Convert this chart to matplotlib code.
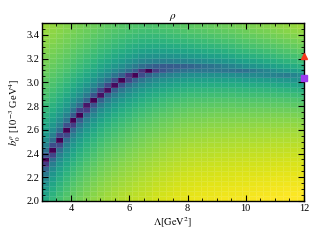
import numpy as np
import matplotlib
matplotlib.use("Agg")
import matplotlib.pyplot as plt
from matplotlib.ticker import MultipleLocator

plt.rcParams["font.family"] = ["Liberation Serif", "DejaVu Serif"]
plt.rcParams["mathtext.fontset"] = "stix"

# valley of the scan (b0 at the minimum)
lam_knots = [3.0, 3.5, 4.0, 4.5, 5.0, 5.5, 6.0, 6.5, 7.0, 7.5, 8.0,
             8.5, 9.0, 9.5, 10.0, 10.5, 11.0, 11.5, 12.0]
bmin_knots = [2.30, 2.49, 2.66, 2.79, 2.905, 2.99, 3.05, 3.095, 3.12, 3.13, 3.135,
              3.13, 3.125, 3.115, 3.10, 3.09, 3.075, 3.06, 3.04]

# colour level far from the valley and depth of the valley
lvl_lam = [3.0, 5.0, 6.5, 8.0, 12.0]
lvl_far = [0.82, 0.87, 0.90, 0.94, 0.99]
lvl_floor = [0.003, 0.003, 0.006, 0.03, 0.06]

# markers at the right edge
ref_lam = [12.0, 12.0]
ref_b = [3.22, 3.035]

lam_edges = np.linspace(3, 12, 39)
b_edges = np.linspace(2.0, 3.5, 37)
lam_c = 0.5 * (lam_edges[1:] + lam_edges[:-1])
b_c = 0.5 * (b_edges[1:] + b_edges[:-1])

bmin = np.interp(lam_c, lam_knots, bmin_knots)
far = np.interp(lam_c, lvl_lam, lvl_far)
floor = np.interp(lam_c, lvl_lam, lvl_floor)

d = np.abs(b_c[:, None] - bmin[None, :])
z = far[None, :] + 0.45 * np.log10(floor[None, :] + d)

fig = plt.figure(figsize=(3.2, 2.4), dpi=100)
ax = fig.add_axes([0.131, 0.1625, 0.819, 0.7415])
ax.pcolormesh(lam_edges, b_edges, z, cmap="viridis", vmin=0, vmax=1,
              edgecolors=(1, 1, 1, 0.12), linewidth=0.4)

ax.plot(ref_lam[0], ref_b[0], marker="^", color="#f5371c", ms=4, clip_on=False, zorder=5)
ax.plot(ref_lam[1], ref_b[1], marker="s", color="#9c3cf0", ms=4.5, clip_on=False, zorder=5)

ax.set_xlim(3, 12)
ax.set_ylim(2.0, 3.5)
ax.xaxis.set_major_locator(MultipleLocator(2))
ax.xaxis.set_minor_locator(MultipleLocator(0.5))
ax.yaxis.set_major_locator(MultipleLocator(0.2))
ax.yaxis.set_minor_locator(MultipleLocator(0.05))
ax.tick_params(which="both", direction="in", top=True, right=True, labelsize=7.5, pad=2)
ax.tick_params(which="major", length=4, width=0.8)
ax.tick_params(which="minor", length=2, width=0.6)
for s in ax.spines.values():
    s.set_linewidth(1.0)

ax.set_title(r"$\rho$", fontsize=8, pad=3)
ax.set_xlabel(r"$\Lambda[\mathrm{GeV}^2]$", fontsize=7.5, labelpad=2)
ax.set_ylabel(r"$b_0^\rho$ [$10^{-3}$ GeV$^4$]", fontsize=7.5, labelpad=2)

fig.savefig("out.png", dpi=100)
